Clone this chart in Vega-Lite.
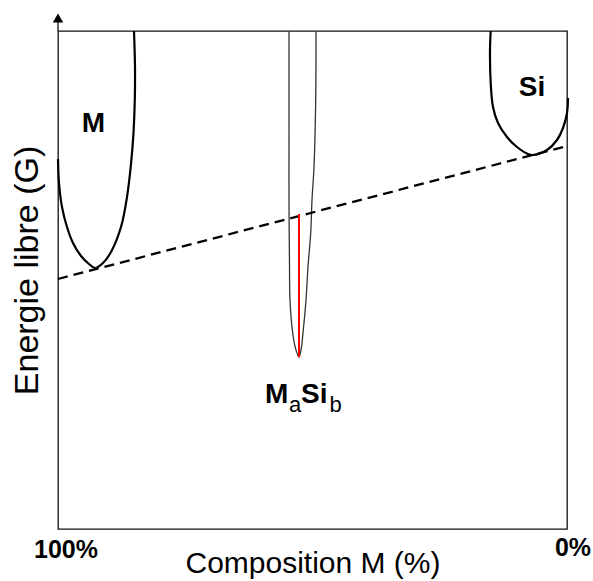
{
  "$schema": "https://vega.github.io/schema/vega-lite/v6.json",
  "width": 509,
  "height": 498,
  "autosize": {"type": "none"},
  "padding": {"left": 58, "top": 31, "right": 26, "bottom": 52},
  "background": "white",
  "config": {
    "view": {"stroke": "#111", "strokeWidth": 1.3},
    "font": "Liberation Sans",
    "axis": {"domain": false, "ticks": false, "labels": false, "grid": false, "titleFont": "Liberation Sans", "titleFontWeight": "normal", "titleColor": "#000", "titleFontSize": 30}
  },
  "datasets": {
    "curves": [
      {"series": "M", "i": 1, "x": 0, "y": 370},
      {"series": "M", "i": 2, "x": 1, "y": 346},
      {"series": "M", "i": 3, "x": 4, "y": 322},
      {"series": "M", "i": 4, "x": 9, "y": 302},
      {"series": "M", "i": 5, "x": 15, "y": 286},
      {"series": "M", "i": 6, "x": 23, "y": 273},
      {"series": "M", "i": 7, "x": 31, "y": 265},
      {"series": "M", "i": 8, "x": 37, "y": 261},
      {"series": "M", "i": 9, "x": 45, "y": 266},
      {"series": "M", "i": 10, "x": 53, "y": 277},
      {"series": "M", "i": 11, "x": 63, "y": 302},
      {"series": "M", "i": 12, "x": 69, "y": 332},
      {"series": "M", "i": 13, "x": 73, "y": 365},
      {"series": "M", "i": 14, "x": 75.5, "y": 396},
      {"series": "M", "i": 15, "x": 76.8, "y": 429},
      {"series": "M", "i": 16, "x": 77, "y": 462},
      {"series": "M", "i": 17, "x": 76, "y": 498},
      {"series": "MaSib", "i": 1, "x": 231, "y": 498},
      {"series": "MaSib", "i": 2, "x": 231, "y": 400},
      {"series": "MaSib", "i": 3, "x": 231, "y": 329},
      {"series": "MaSib", "i": 4, "x": 231.5, "y": 262},
      {"series": "MaSib", "i": 5, "x": 232, "y": 229},
      {"series": "MaSib", "i": 6, "x": 234.7, "y": 196},
      {"series": "MaSib", "i": 7, "x": 238, "y": 179},
      {"series": "MaSib", "i": 8, "x": 241, "y": 172},
      {"series": "MaSib", "i": 9, "x": 243, "y": 179},
      {"series": "MaSib", "i": 10, "x": 245, "y": 196},
      {"series": "MaSib", "i": 11, "x": 248, "y": 229},
      {"series": "MaSib", "i": 12, "x": 250, "y": 262},
      {"series": "MaSib", "i": 13, "x": 252.7, "y": 296},
      {"series": "MaSib", "i": 14, "x": 254, "y": 329},
      {"series": "MaSib", "i": 15, "x": 256, "y": 362},
      {"series": "MaSib", "i": 16, "x": 257.7, "y": 429},
      {"series": "MaSib", "i": 17, "x": 258, "y": 498},
      {"series": "Si", "i": 1, "x": 432.7, "y": 498},
      {"series": "Si", "i": 2, "x": 432, "y": 479},
      {"series": "Si", "i": 3, "x": 432.7, "y": 446},
      {"series": "Si", "i": 4, "x": 435, "y": 422},
      {"series": "Si", "i": 5, "x": 440, "y": 406},
      {"series": "Si", "i": 6, "x": 449, "y": 392},
      {"series": "Si", "i": 7, "x": 459, "y": 382},
      {"series": "Si", "i": 8, "x": 470, "y": 375},
      {"series": "Si", "i": 9, "x": 475, "y": 374},
      {"series": "Si", "i": 10, "x": 489, "y": 379},
      {"series": "Si", "i": 11, "x": 499, "y": 389},
      {"series": "Si", "i": 12, "x": 505, "y": 401},
      {"series": "Si", "i": 13, "x": 509, "y": 416},
      {"series": "Si", "i": 14, "x": 510, "y": 431}
    ],
    "tangent": [
      {"x": 0, "y": 250},
      {"x": 509, "y": 383}
    ],
    "gap": [
      {"x": 241, "y": 172, "y2": 315}
    ],
    "arrow": [
      {"x": 0, "y": 498, "y2": 508, "tip": 511}
    ],
    "bigLabels": [
      {"label": "M", "x": 35.5, "y": 397},
      {"label": "Si", "x": 474, "y": 433.5}
    ],
    "compound": [
      {"label": "M", "x": 207, "y": 126},
      {"label": "Si", "x": 243, "y": 126}
    ],
    "subs": [
      {"label": "a", "x": 231, "y": 117.5},
      {"label": "b", "x": 271.5, "y": 117.5}
    ],
    "ends": [
      {"label": "100%", "x": 8, "y": -29},
      {"label": "0%", "x": 515, "y": -27}
    ]
  },
  "layer": [
    {
      "data": {"name": "curves"},
      "transform": [{"filter": "datum.series === 'M' || datum.series === 'Si'"}],
      "mark": {"type": "line", "color": "#000", "strokeWidth": 2.2, "interpolate": "catmull-rom"},
      "encoding": {
        "x": {"field": "x", "type": "quantitative", "scale": {"domain": [0, 509], "nice": false, "zero": false}, "axis": {"title": "Composition M (%)", "titlePadding": 19}},
        "y": {"field": "y", "type": "quantitative", "scale": {"domain": [0, 498], "nice": false, "zero": false}, "axis": {"title": "Energie libre (G)", "titlePadding": 14, "titleFontSize": 34, "titleY": 239}},
        "detail": {"field": "series"},
        "order": {"field": "i", "type": "quantitative"}
      }
    },
    {
      "data": {"name": "curves"},
      "transform": [{"filter": "datum.series === 'MaSib'"}],
      "mark": {"type": "line", "color": "#333", "strokeWidth": 1.3, "interpolate": "catmull-rom"},
      "encoding": {
        "x": {"field": "x", "type": "quantitative"},
        "y": {"field": "y", "type": "quantitative"},
        "order": {"field": "i", "type": "quantitative"}
      }
    },
    {
      "data": {"name": "tangent"},
      "mark": {"type": "line", "color": "#000", "strokeWidth": 2.3, "strokeDash": [10, 6]},
      "encoding": {
        "x": {"field": "x", "type": "quantitative"},
        "y": {"field": "y", "type": "quantitative"}
      }
    },
    {
      "data": {"name": "gap"},
      "mark": {"type": "rule", "color": "#ff0000", "strokeWidth": 2},
      "encoding": {
        "x": {"field": "x", "type": "quantitative"},
        "y": {"field": "y", "type": "quantitative"},
        "y2": {"field": "y2"}
      }
    },
    {
      "data": {"name": "arrow"},
      "mark": {"type": "rule", "color": "#111", "strokeWidth": 1.3, "clip": false},
      "encoding": {
        "x": {"field": "x", "type": "quantitative"},
        "y": {"field": "y", "type": "quantitative"},
        "y2": {"field": "y2"}
      }
    },
    {
      "data": {"name": "arrow"},
      "mark": {"type": "point", "shape": "triangle-up", "filled": true, "color": "#000", "size": 110, "opacity": 1, "clip": false},
      "encoding": {
        "x": {"field": "x", "type": "quantitative"},
        "y": {"field": "tip", "type": "quantitative"}
      }
    },
    {
      "data": {"name": "bigLabels"},
      "mark": {"type": "text", "fontSize": 28, "fontWeight": "bold", "align": "center", "baseline": "alphabetic", "color": "#000"},
      "encoding": {
        "x": {"field": "x", "type": "quantitative"},
        "y": {"field": "y", "type": "quantitative"},
        "text": {"field": "label"}
      }
    },
    {
      "data": {"name": "compound"},
      "mark": {"type": "text", "fontSize": 28, "fontWeight": "bold", "align": "left", "baseline": "alphabetic", "color": "#000"},
      "encoding": {
        "x": {"field": "x", "type": "quantitative"},
        "y": {"field": "y", "type": "quantitative"},
        "text": {"field": "label"}
      }
    },
    {
      "data": {"name": "subs"},
      "mark": {"type": "text", "fontSize": 22, "fontWeight": "normal", "align": "left", "baseline": "alphabetic", "color": "#000"},
      "encoding": {
        "x": {"field": "x", "type": "quantitative"},
        "y": {"field": "y", "type": "quantitative"},
        "text": {"field": "label"}
      }
    },
    {
      "data": {"name": "ends"},
      "mark": {"type": "text", "fontSize": 25, "fontWeight": "bold", "align": "center", "baseline": "alphabetic", "color": "#000"},
      "encoding": {
        "x": {"field": "x", "type": "quantitative"},
        "y": {"field": "y", "type": "quantitative"},
        "text": {"field": "label"}
      }
    }
  ]
}
